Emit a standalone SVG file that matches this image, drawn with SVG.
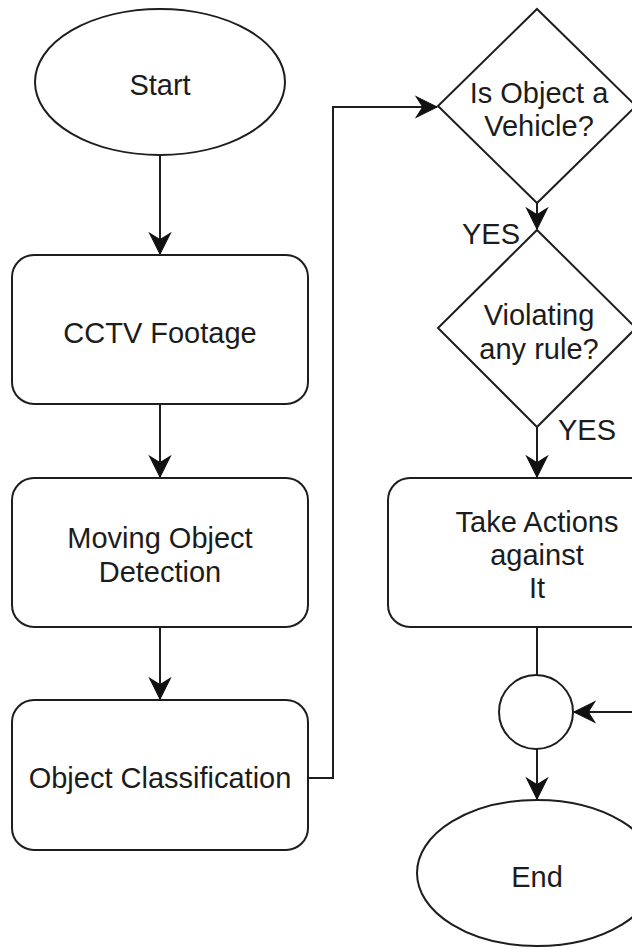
<svg xmlns="http://www.w3.org/2000/svg" width="632" height="949" viewBox="0 0 632 949">
  <style>
    .shape { fill: #ffffff; stroke: #1e1e1e; stroke-width: 2; }
    .edge { fill: none; stroke: #1e1e1e; stroke-width: 2; }
    .label { font-family: "Liberation Sans", Arial, Helvetica, sans-serif; font-size: 29px; fill: #1c1c1c; text-anchor: middle; dominant-baseline: central; }
    .tag { font-family: "Liberation Sans", Arial, Helvetica, sans-serif; font-size: 29px; fill: #1c1c1c; dominant-baseline: central; }
  </style>
  <defs>
    <marker id="arrow" markerUnits="userSpaceOnUse" markerWidth="24" markerHeight="24" viewBox="-20 -11 22 22" refX="0" refY="0" orient="auto">
      <path d="M -19 -9.5 L 0 0 L -19 9.5 L -13 0 Z" fill="#111111" stroke="#111111" stroke-width="1"/>
    </marker>
  </defs>
  <rect width="632" height="949" fill="#ffffff"/>

  <g id="connectors">
    <path class="edge" d="M160 156 L160 254" marker-end="url(#arrow)"/>
    <path class="edge" d="M160 404 L160 477" marker-end="url(#arrow)"/>
    <path class="edge" d="M160 627 L160 699" marker-end="url(#arrow)"/>
    <path class="edge" d="M308 778 L333 778 L333 107 L437 107" marker-end="url(#arrow)"/>
    <path class="edge" d="M537 203 L537 229" marker-end="url(#arrow)"/>
    <path class="edge" d="M537 427 L537 477" marker-end="url(#arrow)"/>
    <path class="edge" d="M537 627 L537 675"/>
    <path class="edge" d="M537 749 L537 799" marker-end="url(#arrow)"/>
    <path class="edge" d="M634 712 L574 712" marker-end="url(#arrow)"/>
    <text class="tag" x="462" y="234">YES</text>
    <text class="tag" x="558" y="430">YES</text>
  </g>

  <g id="start">
    <ellipse class="shape" cx="160" cy="82" rx="125" ry="73"/>
    <text class="label" x="160" y="85">Start</text>
  </g>

  <g id="cctv-footage">
    <rect class="shape" x="12" y="255" width="296" height="149" rx="22" ry="22"/>
    <text class="label" x="160" y="333">CCTV Footage</text>
  </g>

  <g id="moving-object-detection">
    <rect class="shape" x="12" y="478" width="296" height="149" rx="22" ry="22"/>
    <text class="label" x="160" y="538">Moving Object</text>
    <text class="label" x="160" y="572">Detection</text>
  </g>

  <g id="object-classification">
    <rect class="shape" x="12" y="700" width="296" height="150" rx="22" ry="22"/>
    <text class="label" x="160" y="778">Object Classification</text>
  </g>

  <g id="is-vehicle">
    <polygon class="shape" points="537,9 636,106 537,203 438,106"/>
    <text class="label" x="539" y="93">Is Object a</text>
    <text class="label" x="539" y="126">Vehicle?</text>
  </g>

  <g id="violating-rule">
    <polygon class="shape" points="537,230 636,328 537,427 438,328"/>
    <text class="label" x="539" y="315">Violating</text>
    <text class="label" x="539" y="349">any rule?</text>
  </g>

  <g id="take-actions">
    <rect class="shape" x="388" y="478" width="298" height="149" rx="22" ry="22"/>
    <text class="label" x="537" y="522">Take Actions</text>
    <text class="label" x="537" y="555">against</text>
    <text class="label" x="537" y="588">It</text>
  </g>

  <g id="merge">
    <circle class="shape" cx="536" cy="712" r="37"/>
  </g>

  <g id="end">
    <ellipse class="shape" cx="537" cy="873" rx="120" ry="73"/>
    <text class="label" x="537" y="877">End</text>
  </g>
</svg>
